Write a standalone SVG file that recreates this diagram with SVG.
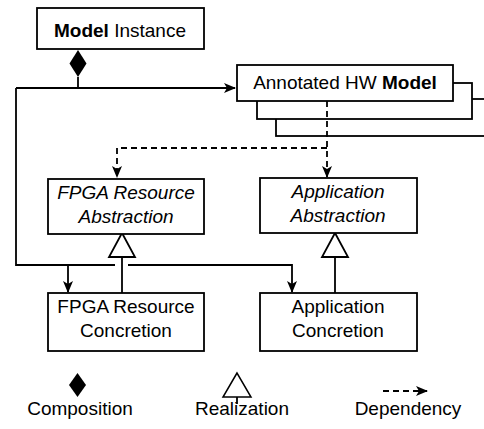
<svg xmlns="http://www.w3.org/2000/svg" width="484" height="429" viewBox="0 0 484 429">
<style>
.box{fill:#fff;stroke:#000;stroke-width:1.8}
.ln{fill:none;stroke:#000;stroke-width:1.8}
.dash{fill:none;stroke:#000;stroke-width:1.8;stroke-dasharray:6 4}
text{font-family:"Liberation Sans",Arial,sans-serif;font-size:19px;fill:#000;text-anchor:middle}
.it{font-style:italic}
.b{font-weight:bold}
</style>
<defs>
<marker id="arr" viewBox="0 0 12 10" refX="11" refY="5" markerWidth="12" markerHeight="10" markerUnits="userSpaceOnUse" orient="auto">
<path d="M0,0 L12,5 L0,10 L3,5 Z" fill="#000"/>
</marker>
</defs>
<g id="connectors">
<path class="ln" d="M78,77 V88"/>
<path class="ln" d="M16,88 H235" marker-end="url(#arr)"/>
<path class="ln" d="M16,88 V265 H115"/>
<path class="ln" d="M128,265 H292 V292" marker-end="url(#arr)"/>
<path class="ln" d="M68,265 V292" marker-end="url(#arr)"/>
<path class="ln" d="M122,293 V257"/>
<path class="ln" d="M335,293 V257"/>
<polygon points="122,233 109,257 135,257" fill="#fff" stroke="#000" stroke-width="1.8"/>
<polygon points="335,233 322,257 348,257" fill="#fff" stroke="#000" stroke-width="1.8"/>
</g>
<g id="annotated-hw-model">
<rect class="box" x="276" y="99" width="220" height="37"/>
<rect class="box" x="257" y="83" width="215" height="36"/>
<path class="dash" d="M327,101 V177" marker-end="url(#arr)"/>
<path class="dash" d="M327,148 H117 V177" marker-end="url(#arr)"/>
<rect class="box" x="237" y="65" width="216" height="36"/>
<text x="345" y="89">Annotated HW <tspan class="b">Model</tspan></text>
</g>
<g id="model-instance">
<rect class="box" x="37" y="8" width="167" height="41"/>
<text x="120" y="37"><tspan class="b">Model</tspan> Instance</text>
<polygon points="78,50 86.5,63.5 78,77 69.5,63.5" fill="#000"/>
</g>
<g id="fpga-abstraction">
<rect class="box" x="48" y="179" width="156" height="55"/>
<text class="it" x="126" y="199">FPGA Resource</text>
<text class="it" x="126" y="223">Abstraction</text>
</g>
<g id="app-abstraction">
<rect class="box" x="260" y="178" width="157" height="55"/>
<text class="it" x="338" y="198">Application</text>
<text class="it" x="338" y="222">Abstraction</text>
</g>
<g id="fpga-concretion">
<rect class="box" x="48" y="293" width="156" height="58"/>
<text x="126" y="313">FPGA Resource</text>
<text x="126" y="337">Concretion</text>
</g>
<g id="app-concretion">
<rect class="box" x="260" y="293" width="157" height="58"/>
<text x="338" y="313">Application</text>
<text x="338" y="337">Concretion</text>
</g>
<g id="legend">
<polygon points="77.5,373 86,385 77.5,397 69,385" fill="#000"/>
<text x="80" y="415">Composition</text>
<polygon points="237,373 223,397 251,397" fill="#fff" stroke="#000" stroke-width="1.5"/>
<path class="ln" d="M237,397 V404" stroke-width="1.5"/>
<text x="242" y="415">Realization</text>
<path class="dash" d="M383,391 H427" marker-end="url(#arr)"/>
<text x="408" y="415">Dependency</text>
</g>
</svg>
